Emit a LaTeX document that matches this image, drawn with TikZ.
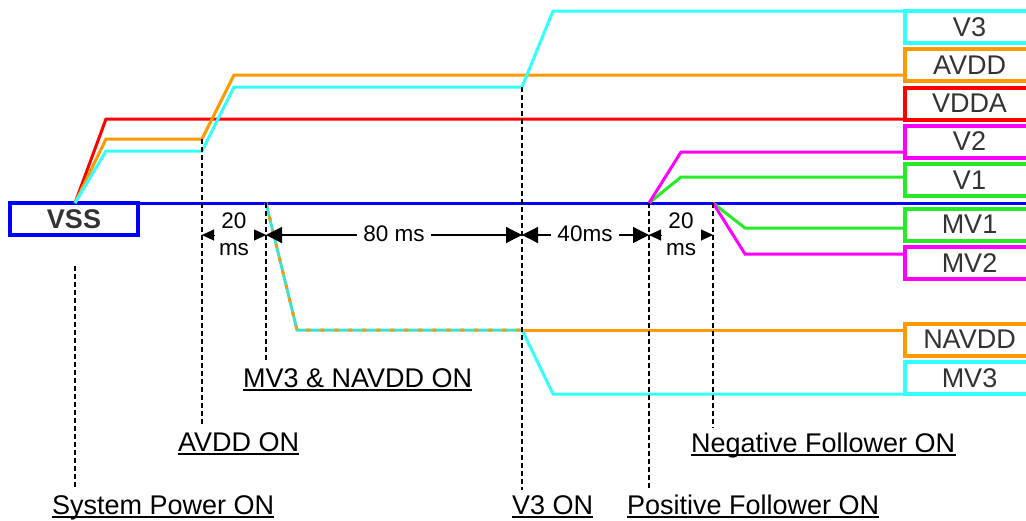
\documentclass[tikz,border=0pt]{standalone}
\usepackage{fontspec}
\setmainfont{Liberation Sans}
\usetikzlibrary{arrows.meta,calc}
\definecolor{cyanL}{RGB}{51,255,255}
\definecolor{orangeL}{RGB}{255,153,0}
\definecolor{redL}{RGB}{255,0,0}
\definecolor{magL}{RGB}{255,0,255}
\definecolor{greenL}{RGB}{40,235,40}
\definecolor{blueL}{RGB}{0,0,255}
\definecolor{turq}{RGB}{64,224,208}
\definecolor{txtgray}{RGB}{51,51,51}
\begin{document}
\begin{tikzpicture}[x=1pt,y=-1pt,
  sig/.style={line width=3pt,line join=miter},
  sigbox/.style={draw,line width=4pt,minimum width=129pt,minimum height=32pt,inner sep=0pt,
     text=txtgray,font=\fontsize{27}{32}\selectfont},
  vssbox/.style={draw=blueL,line width=4pt,minimum width=128pt,minimum height=32pt,inner sep=0pt,
     text=txtgray,font=\fontsize{27}{32}\selectfont\bfseries},
  vdash/.style={black,line width=1.1pt,dash pattern=on 5pt off 3pt,shorten >=5pt},
  lab/.style={inner sep=0pt,anchor=base west,font=\fontsize{27}{32}\selectfont},
  uline/.style={black,line width=2pt},
  dimtxt/.style={inner xsep=6pt,inner ysep=0pt,font=\fontsize{22.5}{27}\selectfont,align=center},
  bigarr/.style={black,line width=1.3pt,-{Triangle[length=16pt,width=16pt]}},
  smallarr/.style={black,line width=0.1pt,-{Triangle[length=12pt,width=11pt]}}
]
\useasboundingbox (0,0) rectangle (1026,520);
\clip (0,0) rectangle (1026,520);

% right-hand signal boxes
\node[sigbox,draw=cyanL]   (bV3)    at (969.5,27)    {V3};
\node[sigbox,draw=orangeL] (bAVDD)  at (969.5,65)    {AVDD};
\node[sigbox,draw=redL]    (bVDDA)  at (969.5,103.5) {VDDA};
\node[sigbox,draw=magL]    (bV2)    at (969.5,141.5) {V2};
\node[sigbox,draw=greenL]  (bV1)    at (969.5,180)   {V1};
\node[sigbox,draw=greenL]  (bMV1)   at (969.5,224.5) {MV1};
\node[sigbox,draw=magL]    (bMV2)   at (969.5,263)   {MV2};
\node[sigbox,draw=orangeL] (bNAVDD) at (969.5,339.5) {NAVDD};
\node[sigbox,draw=cyanL]   (bMV3)   at (969.5,378)   {MV3};

% VSS box
\node[vssbox] (vss) at (74,219) {VSS};

% key coordinates
\coordinate (s0) at (75,203);
\coordinate (pA) at (202,139);
\coordinate (pAc) at (202,151);
\coordinate (pN) at (266,203);
\coordinate (pV3) at (522,87);
\coordinate (pM3) at (522,330);
\coordinate (pP) at (649,203);
\coordinate (pNeg) at (713,203);
\coordinate (eBlue) at (1030,203);
\coordinate (eV3) at (905,11);
\coordinate (eAVDD) at (905,75);
\coordinate (eVDDA) at (905,119);
\coordinate (eV2) at (905,152);
\coordinate (eV1) at (905,177);
\coordinate (eMV1) at (905,228);
\coordinate (eMV2) at (905,254);
\coordinate (eNAVDD) at (905,330);
\coordinate (eMV3) at (905,394);

% baseline
\draw[sig,blueL] (vss.east |- s0) -- (eBlue);

% rising supplies
\draw[sig,redL] (s0) -- (106,119) -- (eVDDA);
\draw[sig,orangeL] (s0) -- (106,139) -- (pA) -- (234,75) -- (eAVDD);
\draw[sig,cyanL] (s0) -- (106,151) -- (pAc) -- (234,87) -- (pV3) -- (553,11) -- (eV3);

% MV3 & NAVDD
\draw[sig,turq] (pN) -- (297,330) -- (pM3);
\draw[sig,orangeL,dash pattern=on 4pt off 10pt] (pN) -- (297,330) -- (pM3);
\draw[sig,orangeL] (pM3) -- (eNAVDD);
\draw[sig,cyanL] (pM3) -- (553,394) -- (eMV3);

% followers
\draw[sig,greenL] (pP) -- (681,177) -- (eV1);
\draw[sig,magL] (pP) -- (681,152) -- (eV2);
\draw[sig,greenL] (pNeg) -- (745,228) -- (eMV1);
\draw[sig,magL] (pNeg) -- (745,254) -- (eMV2);

% labels
\node[lab] (lSys) at (52,514) {System Power ON};
\node[lab] (lAV)  at (178,451) {AVDD ON};
\node[lab] (lMN)  at (243,387) {MV3 \& NAVDD ON};
\node[lab] (lV3)  at (512,514) {V3 ON};
\node[lab] (lPos) at (627,514) {Positive Follower ON};
\node[lab] (lNeg) at (691,452) {Negative Follower ON};
\foreach \n in {lSys,lAV,lMN,lV3,lPos,lNeg}{
  \draw[uline] ([yshift=-2.5pt]\n.base west) -- ([yshift=-2.5pt]\n.base east);
}

% dashed markers
\coordinate (tSys) at (75,266);
\draw[vdash] (tSys) -- (tSys |- lSys.north);
\draw[vdash] (pA) -- (pA |- lAV.north);
\draw[vdash] (pN) -- (pN |- lMN.north);
\draw[vdash] (pV3) -- (pV3 |- lV3.north);
\draw[vdash] (pP) -- (pP |- lPos.north);
\draw[vdash] (pNeg) -- (pNeg |- lNeg.north);

% dimension arrows
\coordinate (dA) at (202,235);
\coordinate (dB) at (266,235);
\coordinate (dC) at (522,235);
\coordinate (dD) at (649,235);
\coordinate (dE) at (713,235);

\node[dimtxt] (t20a) at (234,234) {20\\ms};
\draw[smallarr] ($(dA)+(12,0)$) -- (dA);
\draw[smallarr] ($(dB)+(-12,0)$) -- (dB);

\node[dimtxt] (t80) at (394,234) {80 ms};
\draw[bigarr] (t80.west |- dB) -- (dB);
\draw[bigarr] (t80.east |- dC) -- (dC);

\node[dimtxt] (t40) at (585,234) {40ms};
\draw[bigarr] (t40.west |- dC) -- (dC);
\draw[bigarr] (t40.east |- dD) -- (dD);

\node[dimtxt] (t20b) at (681,234) {20\\ms};
\draw[smallarr] ($(dD)+(12,0)$) -- (dD);
\draw[smallarr] ($(dE)+(-12,0)$) -- (dE);
\end{tikzpicture}
\end{document}
